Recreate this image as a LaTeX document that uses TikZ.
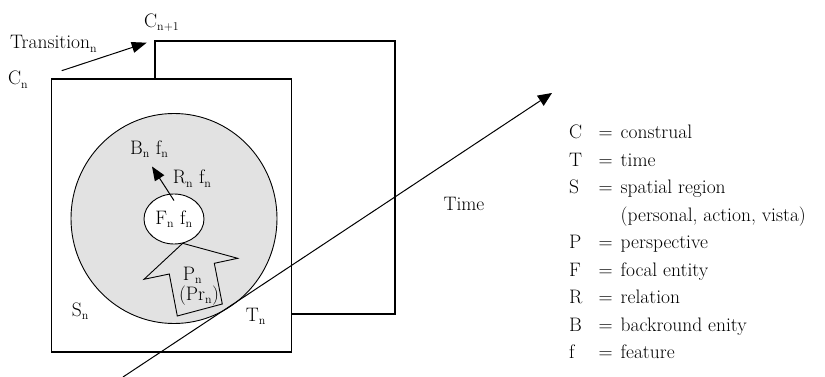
\documentclass[tikz,border=0pt]{standalone}
\usepackage{tikz}
\usetikzlibrary{arrows.meta,shapes.geometric}
\definecolor{regiongray}{RGB}{226,226,226}
\newcommand\nsub[1]{\textsubscript{\fontsize{12}{12}\selectfont #1}}
\tikzset{
  lbl/.style={inner sep=0pt, anchor=base west},
  frame/.style={draw, line width=1.1pt},
  outline/.style={draw, line width=0.9pt},
  arr/.style={-{Triangle[length=14pt,width=11pt]}, line width=1pt},
}

\begin{document}
\begin{tikzpicture}[x=1pt, y=-1pt, font=\fontsize{19.5}{27.5}\selectfont]
  \useasboundingbox (0,0) rectangle (825,377);

  % next construal, behind
  \draw[frame] (155,79) -- (155,41) -- (395,41) -- (395,314) -- (292,314);
  % current construal
  \node[frame, fill=white, minimum width=240pt, minimum height=273pt, inner sep=0pt] (box) at (171.7,215.5) {};
  \node[outline, ellipse, fill=regiongray, minimum width=206pt, minimum height=210pt, inner sep=0pt] (region) at (174,218.5) {};
  \node[outline, ellipse, fill=white, minimum width=60pt, minimum height=50pt, inner sep=0pt] (focal) at (174,219) {F\nsub{n} f\nsub{n}};

  % perspective arrow
  \draw[outline] (182.7,243.3) -- (237.7,258.3) -- (214.3,263.3) -- (222.3,304)
    -- (177.3,316) -- (169.3,274) -- (144,279.3) -- cycle;

  \node[lbl] (cnext) at (144,27.7) {C\nsub{n+1}};
  \node[lbl] (trans) at (10,49) {Transition\nsub{n}};
  \node[lbl] (cn) at (8,85) {C\nsub{n}};
  \node[lbl] (bg) at (130,154.5) {B\nsub{n} f\nsub{n}};
  \node[lbl] (rel) at (172.7,184) {R\nsub{n} f\nsub{n}};
  \node[lbl, anchor=base] (persp) at (192.5,280.5) {P\nsub{n}};
  \node[lbl, anchor=base] (prel) at (199,300.5) {(Pr\nsub{n})};
  \node[lbl] (space) at (71.7,316.7) {S\nsub{n}};
  \node[lbl] (tn) at (245.7,321) {T\nsub{n}};
  \node[lbl] (timelbl) at (443.3,210.7) {Time};

  \coordinate (trfrom) at (61.7,70.7);
  \coordinate (trto) at (146.7,42.7);
  \coordinate (bgtip) at (152,166.5);
  \coordinate (tstart) at (123,377);
  \coordinate (tend) at (552,93);

  \draw[arr, -{Triangle[length=15pt,width=11pt]}] (trfrom) -- (trto);
  \draw[arr] ([yshift=-7pt]focal.north) -- (bgtip);
  \draw[arr, -{Triangle[length=14pt,width=12pt]}] (tstart) -- (tend);

  % legend
  \node[lbl] (legend) at (569,139) {\begin{tabular}[t]{@{}p{29.5pt}@{}l@{\hspace{8pt}}l@{}}
    C & = & construal\\
    T & = & time\\
    S & = & spatial region\\
      &   & (personal, action, vista)\\
    P & = & perspective\\
    F & = & focal entity\\
    R & = & relation\\
    B & = & backround enity\\
    f & = & feature
  \end{tabular}};
\end{tikzpicture}
\end{document}
